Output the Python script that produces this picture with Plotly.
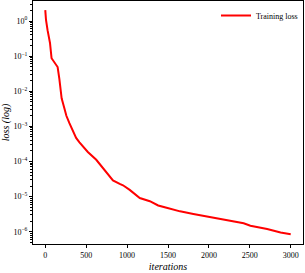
import plotly.graph_objects as go

iterations = [0, 9, 28, 58, 77, 111, 151, 172, 184, 200, 230, 258, 295, 332, 377, 418,
              520, 623, 664, 746, 808, 827, 910, 950, 1032, 1155, 1278, 1380, 1483,
              1647, 1810, 2016, 2425, 2507, 2712, 2876, 3000]
loss = [2.04, 1.07, 0.55, 0.234, 0.087, 0.069, 0.049, 0.0224, 0.0100, 0.0063, 0.0035,
        0.0020, 0.00123, 7.8e-4, 4.7e-4, 3.5e-4, 1.86e-4, 1.12e-4, 8.5e-5, 5.0e-5,
        3.2e-5, 2.9e-5, 2.3e-5, 2.1e-5, 1.55e-5, 9.1e-6, 7.4e-6, 5.6e-6, 4.8e-6,
        3.8e-6, 3.2e-6, 2.6e-6, 1.74e-6, 1.48e-6, 1.2e-6, 9.5e-7, 8.5e-7]

x_ticks = [0, 500, 1000, 1500, 2000, 2500, 3000]
y_exponents = [0, -1, -2, -3, -4, -5, -6]

y_tickvals = [10.0 ** e for e in y_exponents]
y_ticktext = ["10<sup>" + ("−" + str(-e) if e < 0 else str(e)) + "</sup>" for e in y_exponents]
y_minor = [m * 10.0 ** e for e in range(-7, 1) for m in range(2, 10)]

FONT = "Liberation Serif"

fig = go.Figure()
fig.add_trace(go.Scatter(x=iterations, y=loss, mode="lines", name="Training loss",
                         line=dict(color="#ff0000", width=2)))

fig.update_layout(
    width=305, height=273,
    margin=dict(l=33, r=2, t=1, b=29),
    plot_bgcolor="white", paper_bgcolor="white",
    font=dict(family=FONT, size=9, color="black"),
    showlegend=True,
    legend=dict(x=1.0, y=1.0, xanchor="right", yanchor="top",
                bgcolor="rgba(255,255,255,0)", font=dict(family=FONT, size=8),
                borderwidth=0),
    xaxis=dict(range=[-150, 3150], tickvals=x_ticks, ticktext=[str(v) for v in x_ticks],
               showline=True, linecolor="black", linewidth=1, mirror=True,
               ticks="outside", ticklen=3, tickwidth=1, tickcolor="black",
               showgrid=False, zeroline=False,
               tickfont=dict(family=FONT, size=8),
               title=dict(text="<i>iterations</i>", font=dict(family=FONT, size=10), standoff=4)),
    yaxis=dict(type="log", range=[-6.35, 0.57], tickvals=y_tickvals, ticktext=y_ticktext,
               showline=True, linecolor="black", linewidth=1, mirror=True,
               ticks="outside", ticklen=3, tickwidth=1, tickcolor="black",
               showgrid=False, zeroline=False,
               tickfont=dict(family=FONT, size=8),
               minor=dict(tickvals=y_minor, ticks="outside", ticklen=2, tickwidth=0.8,
                          tickcolor="black", showgrid=False),
               title=dict(text="<i>loss (log)</i>", font=dict(family=FONT, size=10), standoff=2)),
)

fig.write_html("out.html", config={"displayModeBar": False},
               post_script="document.body.style.margin='0';")
